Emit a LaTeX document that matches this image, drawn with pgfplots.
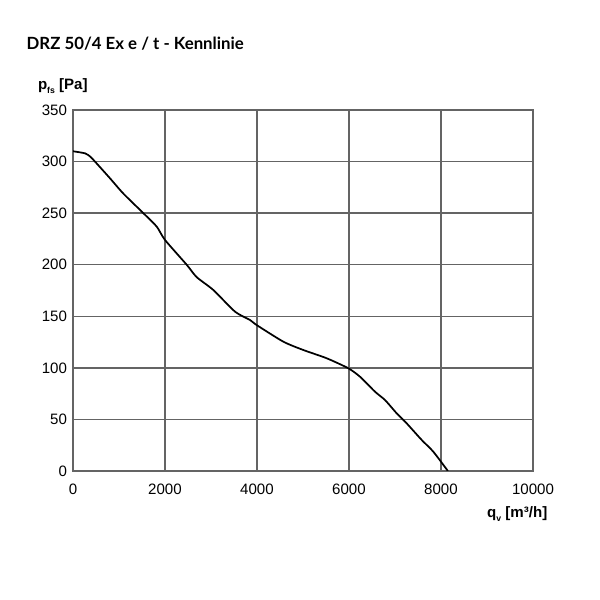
\documentclass[border=0pt]{standalone}
\usepackage{fontspec}
\setmainfont{Liberation Sans}
\newfontfamily\titlefont{Lato}
\usepackage{pgfplots}
\pgfplotsset{compat=1.18}

\definecolor{gridgray}{RGB}{100,100,100}

% fan curve
\pgfplotstableread{
q p
0 310
260 308
370 305
478 300
800 284
1094 269
1529 250
1819 237
2000 224
2471 200
2688 188
3050 175.5
3522 154.5
3848 146.4
3993 141.5
4572 125.4
5007 117.3
5515 109.3
5985 99.6
6239 91.4
6565 76.9
6783 68.8
7037 55.9
7254 46.2
7580 30.1
7833 18.7
8150 0
}\curvedata

\begin{document}
\begin{tikzpicture}
\useasboundingbox (0,0) rectangle (450pt,450pt);
\begin{axis}[
    at={(54.75pt,96.75pt)}, anchor=south west,
    scale only axis,
    width=345pt, height=270.75pt,
    xmin=0, xmax=10000, ymin=0, ymax=350,
    xtick={0,2000,...,10000},
    ytick={0,50,...,350},
    major tick length=0pt,
    grid=major,
    major grid style={gridgray, line width=1.1pt},
    axis line style={gridgray, line width=1.1pt},
    tick label style={font=\fontsize{11.3}{13}\selectfont},
    /pgf/number format/assume math mode=true,
    /pgf/number format/1000 sep={},
    scaled x ticks=false,
    xticklabel style={yshift=-6pt},
    yticklabel style={xshift=-1pt},
]
\addplot[black, line width=1.3pt, smooth, tension=0.4] table[x=q, y=p] {\curvedata};
\end{axis}
\node[anchor=west, font=\titlefont\bfseries\fontsize{12.6}{15}\selectfont] at (16.5pt,417pt) {DRZ 50/4 Ex e / t - Kennlinie};
\node[anchor=west, font=\bfseries\fontsize{11.3}{13}\selectfont] at (25pt,385.5pt) {p\raisebox{-0.6ex}{\fontsize{6.5}{7}\selectfont fs} [Pa]};
\node[anchor=east, font=\bfseries\fontsize{11.3}{13}\selectfont] at (414pt,64.5pt) {q\raisebox{-0.6ex}{\fontsize{6.5}{7}\selectfont v} [m³/h]};
\end{tikzpicture}
\end{document}
